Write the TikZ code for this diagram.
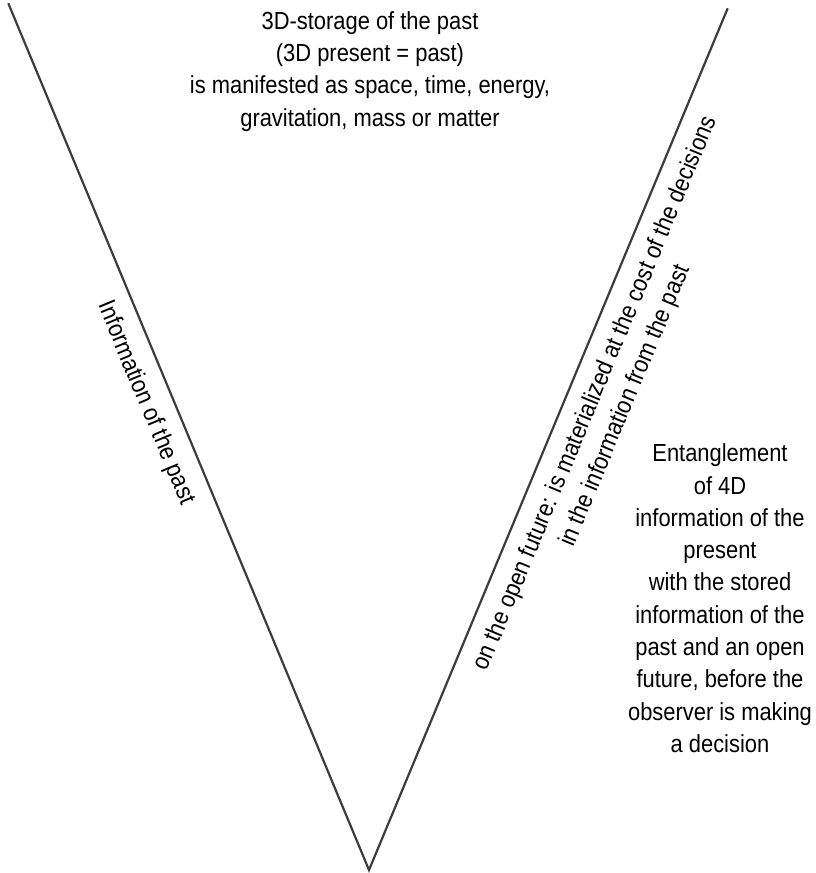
\documentclass[tikz,border=0pt]{standalone}
\usepackage{fontspec}
\setmainfont{Liberation Sans}[FakeStretch=0.887]
\definecolor{linegray}{HTML}{3C3C3C}
\begin{document}
\begin{tikzpicture}[x=1pt,y=-1pt,
  vline/.style={draw=linegray, line width=2.2pt, line join=miter},
  lbl/.style={font=\fontsize{24.7}{32.3}\selectfont, inner sep=0pt, text=black},
  block/.style={lbl, align=center, anchor=base},
  side/.style={lbl, anchor=base}]
\useasboundingbox (0,0) rectangle (816,873);

% the two arms of the V
\coordinate (tl) at (8.3,3.3);
\coordinate (tr) at (727.7,8.3);
\coordinate (tip) at (369,870);
\draw[vline] (tl) -- (tip) -- (tr);

% text between the arms (anchored on the baseline of its last line)
\node[block] (storage) at (370,126.2)
  {3D-storage of the past\\(3D present = past)\\is manifested as space, time, energy,\\gravitation, mass or matter};

% labels along the arms
\node[side, rotate=-67.4] (pastinfo) at (139.9,405.3) {Information of the past};
\node[side, rotate=67.4] (future1) at (601.8,395.9)
  {on the open future: is materialized at the cost of the decisions};
\node[side, rotate=67.4] (future2) at (631.6,408.3)
  {in the information from the past};

% text right of the V (anchored on the baseline of its last line)
\node[block] (entangle) at (720,752.4)
  {Entanglement\\of 4D\\information of the\\present\\with the stored\\information of the\\past and an open\\future, before the\\observer is making\\a decision};
\end{tikzpicture}
\end{document}
